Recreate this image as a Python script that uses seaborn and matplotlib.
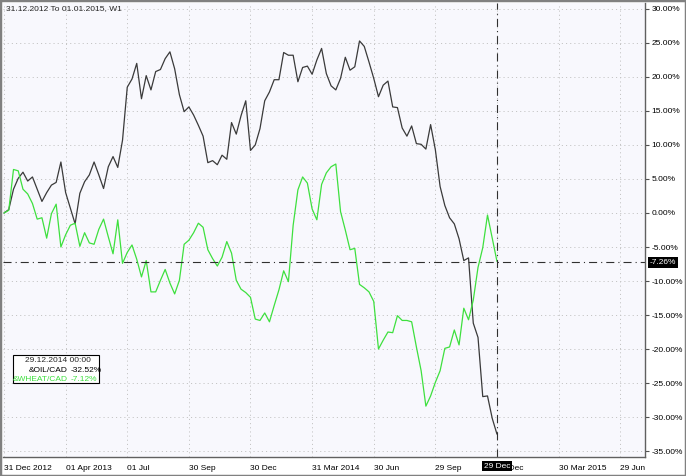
import numpy as np
import pandas as pd
import matplotlib
matplotlib.use('Agg')
import matplotlib.pyplot as plt
import matplotlib.dates as mdates
import matplotlib.transforms as mtransforms
from matplotlib.patches import Rectangle
import seaborn as sns

# weekly % change since 31 Dec 2012
start = '2012-12-31'
oil_cad = [0, 0.5, 3.5, 5.1, 6.0, 4.7, 5.3, 3.5, 1.7, 3.0,
           4.1, 4.5, 7.5, 3.0, 0.7, -1.6, 2.9, 4.6, 5.6, 7.5,
           5.6, 3.6, 6.8, 8.3, 6.7, 10.7, 18.5, 19.7, 22.0, 16.8,
           20.2, 18.1, 20.8, 21.1, 22.7, 23.7, 21.2, 17.4, 14.9, 15.6,
           14.4, 12.9, 11.3, 7.4, 7.7, 7.1, 8.5, 7.9, 13.3, 11.6,
           14.3, 16.5, 9.2, 10.0, 12.4, 16.5, 17.8, 19.6, 19.6, 23.6,
           23.2, 23.2, 19.3, 21.4, 21.6, 20.4, 22.5, 24.2, 20.5, 18.7,
           18.1, 19.8, 22.9, 21.0, 21.5, 25.3, 24.5, 22.2, 19.8, 17.1,
           18.8, 19.4, 15.6, 15.5, 12.5, 11.3, 12.8, 10.2, 10.1, 9.4,
           13.0, 9.3, 3.9, 1.1, -0.7, -1.6, -3.8, -7.0, -6.6, -16.2,
           -18.3, -27.0, -26.9, -30.2, -32.52]
wheat_cad = [0, 0.4, 6.4, 6.2, 3.5, 2.8, 1.4, -0.9, -0.7, -3.7,
             -0.1, 1.3, -5.0, -3.2, -1.8, -1.5, -4.9, -2.9, -4.4, -4.6,
             -2.4, -0.9, -3.5, -6.0, -1.0, -7.4, -5.8, -4.7, -6.8, -9.4,
             -7.0, -11.6, -11.6, -9.9, -8.3, -10.3, -11.9, -9.9, -4.6, -4.0,
             -2.9, -1.5, -2.1, -5.4, -6.7, -7.8, -6.5, -4.2, -5.9, -9.9,
             -11.2, -11.7, -12.4, -15.6, -15.8, -14.7, -16.0, -13.6, -11.3, -8.5,
             -10.1, -1.8, 3.4, 5.3, 4.4, 0.6, -1.0, 4.2, 5.9, 6.8,
             7.2, 0.2, -2.5, -5.4, -5.2, -10.5, -11.0, -11.6, -13.0, -20.0,
             -18.7, -17.5, -17.6, -15.1, -15.8, -15.8, -16.0, -19.7, -23.2, -28.4,
             -26.9, -24.9, -23.2, -19.9, -19.7, -17.2, -19.4, -14.0, -15.7, -12.8,
             -8.0, -5.1, -0.3, -3.7, -7.12]

tick_dates = ['2012-12-31', '2013-04-01', '2013-07-01', '2013-09-30', '2013-12-30',
              '2014-03-31', '2014-06-30', '2014-09-29', '2014-12-29', '2015-03-30',
              '2015-06-29']
tick_labels = ['31 Dec 2012', '01 Apr 2013', '01 Jul', '30 Sep', '30 Dec',
               '31 Mar 2014', '30 Jun', '29 Sep', '29 Dec', '30 Mar 2015', '29 Jun']
y_ticks = list(range(-35, 31, 5))

cursor_date = '2014-12-29'
cursor_level = -7.26
header = '31.12.2012 To 01.01.2015, W1'
info_time = '29.12.2014 00:00'
info_names = ['&OIL/CAD', '&WHEAT/CAD']
info_values = ['-32.52%', '-7.12%']

oil_color = '#3a3a3a'
wheat_color = '#3ee03e'

sns.set_style('white')
plt.rcParams['font.family'] = ['Liberation Sans', 'DejaVu Sans']
plt.rcParams['lines.scale_dashes'] = False

dates = pd.date_range(start, periods=len(oil_cad), freq='7D')
df = pd.DataFrame({'date': dates, 'oil': oil_cad, 'wheat': wheat_cad})

W, H = 686, 476
fig = plt.figure(figsize=(W / 100, H / 100), dpi=100)
fig.patch.set_facecolor('white')
ax = fig.add_axes([3 / W, 19 / H, 642 / W, 454 / H])
ax.set_facecolor('#f8f8fd')

sns.lineplot(data=df, x='date', y='oil', color=oil_color, lw=0.9, ax=ax)
sns.lineplot(data=df, x='date', y='wheat', color=wheat_color, lw=0.9, ax=ax)

t0 = pd.Timestamp(start)
ax.set_xlim(t0 - pd.Timedelta(days=1.5), t0 + pd.Timedelta(days=946.6))
ax.set_ylim(-35.88, 30.88)

ax.set_xticks(pd.to_datetime(tick_dates))
ax.set_xticklabels(tick_labels, ha='left')
ax.yaxis.tick_right()
ax.set_yticks(y_ticks)
ax.set_yticklabels(['%.2f%%' % v for v in y_ticks])
ax.set_xlabel('')
ax.set_ylabel('')
ax.tick_params(axis='x', direction='out', length=4, width=0.8, pad=1.5,
               labelsize=6, color='#505050', labelcolor='black')
ax.tick_params(axis='y', direction='out', length=3, width=0.8, pad=1.5,
               labelsize=6, color='#505050', labelcolor='black')

ax.grid(True, color='#c4c4c4', linestyle=(0, (0.8, 2.2)), lw=0.7)
for side in ['left', 'top']:
    ax.spines[side].set_visible(False)
for side in ['right', 'bottom']:
    ax.spines[side].set_color('#606060')
    ax.spines[side].set_linewidth(1.0)

# crosshair
dashdot = (0, (5.8, 2.9, 0.8, 2.9))
cx = mdates.date2num(pd.Timestamp(cursor_date))
ax.axhline(cursor_level, color='#303030', lw=0.8, ls=dashdot)
ax.axvline(cx, color='#303030', lw=0.8, ls=dashdot)

trans_y = mtransforms.blended_transform_factory(ax.transAxes, ax.transData)
ax.text(1.0075, cursor_level, '%.2f%%' % cursor_level, transform=trans_y,
        ha='left', va='center', fontsize=6, color='white', clip_on=False,
        bbox=dict(boxstyle='square,pad=0.2', fc='black', ec='none'))
trans_x = mtransforms.blended_transform_factory(ax.transData, ax.transAxes)
ax.text(cx, -0.0205, '29 Dec', transform=trans_x, ha='center', va='center',
        fontsize=6, color='white', clip_on=False, zorder=10,
        bbox=dict(boxstyle='square,pad=0.2', fc='black', ec='none'))

# header text
fig.text(6 / W, 1 - 9 / H, header, ha='left', va='center', fontsize=6)

# info box
fig.add_artist(Rectangle((12.7 / W, 1 - 383 / H), 86.6 / W, 28 / H,
                         transform=fig.transFigure, fc='white', ec='black',
                         lw=0.8, zorder=5))
fig.text(57.5 / W, 1 - 360 / H, info_time, ha='center', va='center',
         fontsize=6, zorder=6)
for k, (name, val, col) in enumerate(zip(info_names, info_values,
                                         [oil_color, wheat_color])):
    yy = 1 - (370 + 9.5 * k) / H
    fig.text(68 / W, yy, name, ha='right', va='center', fontsize=6,
             color='black' if k == 0 else wheat_color, zorder=6)
    fig.text(71 / W, yy, val, ha='left', va='center', fontsize=6,
             color='black' if k == 0 else wheat_color, zorder=6)

# outer frame
fig.add_artist(Rectangle((0, 0), 1, 1, transform=fig.transFigure, fill=False,
                         ec='#808080', lw=2.5))

fig.savefig('out.png', dpi=100)
